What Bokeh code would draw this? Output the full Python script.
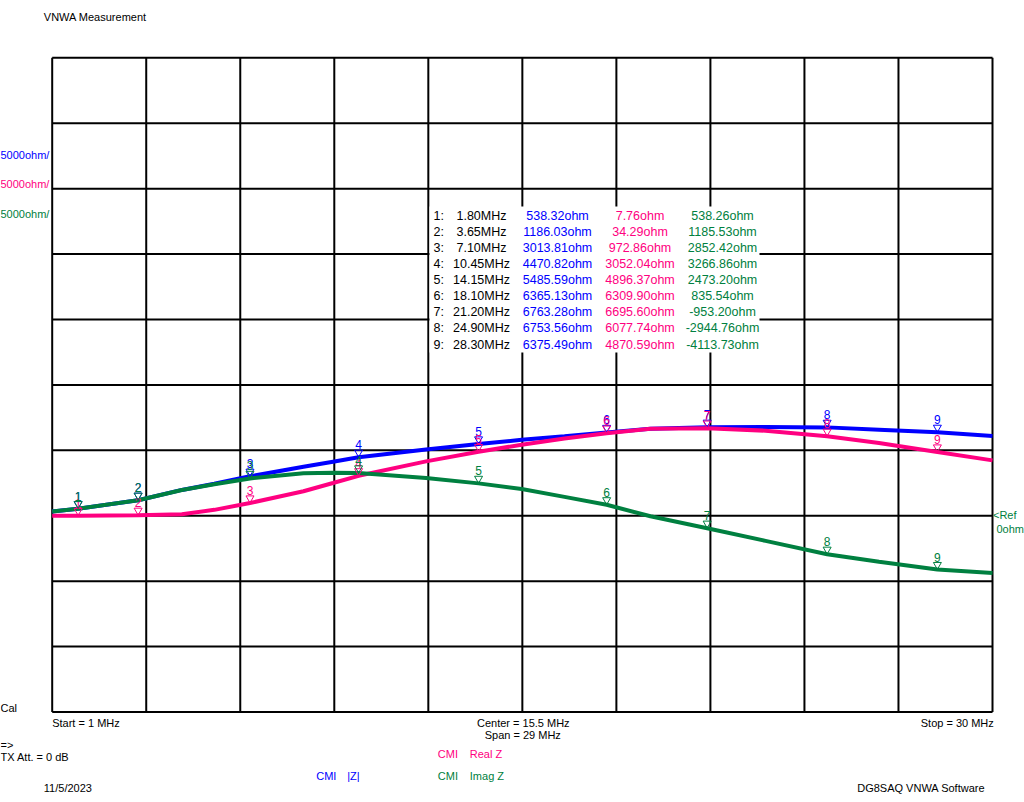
from bokeh.plotting import figure
from bokeh.models import Range1d
from bokeh.core.properties import value
from bokeh.embed import file_html
from bokeh.resources import INLINE

# ---------------- data ----------------
freq_mhz = [1.0, 1.8, 3.65, 5.0, 6.0, 7.1, 8.75, 9.66, 10.45, 12.53, 14.15,
            15.48, 16.8, 18.1, 19.45, 21.2, 23.0, 24.9, 26.5, 28.3, 30.0]
real_z = [5, 7.76, 34.29, 110, 450, 972.86, 1870, 2500, 3052.04, 4155, 4896.37,
          5427, 5900, 6309.9, 6640, 6695.6, 6500, 6077.74, 5560, 4870.59, 4230]
imag_z = [320, 538.26, 1185.53, 1970, 2400, 2852.42, 3240, 3290, 3266.86, 2887, 2473.2,
          2050, 1440, 835.54, -40, -953.2, -1920, -2944.76, -3510, -4113.73, -4383]
mag_z = [320, 538.32, 1186.03, 1973, 2442, 3013.81, 3741, 4132, 4470.82, 5059, 5485.59,
         5801, 6075, 6365.13, 6640, 6763.28, 6778, 6753.56, 6580, 6375.49, 6095]

marker_freq = [1.80, 3.65, 7.10, 10.45, 14.15, 18.10, 21.20, 24.90, 28.30]
marker_mag = [538.32, 1186.03, 3013.81, 4470.82, 5485.59, 6365.13, 6763.28, 6753.56, 6375.49]
marker_re = [7.76, 34.29, 972.86, 3052.04, 4896.37, 6309.90, 6695.60, 6077.74, 4870.59]
marker_im = [538.26, 1185.53, 2852.42, 3266.86, 2473.20, 835.54, -953.20, -2944.76, -4113.73]

x_grid = [1.0, 3.9, 6.8, 9.7, 12.6, 15.5, 18.4, 21.3, 24.2, 27.1, 30.0]
y_grid = [-15000, -10000, -5000, 0, 5000, 10000, 15000, 20000, 25000, 30000, 35000]

BLUE = "#0000FF"
PINK = "#FF0080"
GREEN = "#008040"
FONT = value("Liberation Sans")

# ---------------- layout ----------------
W, H = 1024, 800
OFF = 0
FL, FR, FT, FB = 51.7, 992.0, 57.3, 711.5   # plot box in page pixels
x0, x1 = x_grid[0], x_grid[-1]
y0, y1 = y_grid[0], y_grid[-1]
sx = (x1 - x0) / (FR - FL)
sy = (y1 - y0) / (FB - FT)

def X(px):
    return x0 + (px - FL) * sx

def Y(py):
    return y1 - (py - FT) * sy

p = figure(width=W, height=H,
           x_range=Range1d(X(OFF), X(OFF + W)),
           y_range=Range1d(Y(OFF + H), Y(OFF)),
           output_backend="svg", toolbar_location=None,
           x_axis_location=None, y_axis_location=None,
           min_border=0, min_border_left=0, min_border_right=0,
           min_border_top=0, min_border_bottom=0)
p.outline_line_color = None
p.grid.grid_line_color = None
p.background_fill_color = "white"
p.border_fill_color = "white"

# grid
p.segment(x0=x_grid, y0=[y0] * len(x_grid), x1=x_grid, y1=[y1] * len(x_grid),
          line_color="black", line_width=2)
p.segment(x0=[x0] * len(y_grid), y0=y_grid, x1=[x1] * len(y_grid), y1=y_grid,
          line_color="black", line_width=2)

# white box behind the marker table
p.quad(left=[X(429)], right=[X(759)], top=[Y(206)], bottom=[Y(352)],
       fill_color="white", line_color=None)

# traces
p.line(freq_mhz, mag_z, line_color=BLUE, line_width=4)
p.line(freq_mhz, real_z, line_color=PINK, line_width=4)
p.line(freq_mhz, imag_z, line_color=GREEN, line_width=4)

# markers
labels = [str(i + 1) for i in range(len(marker_freq))]
for vals, col in ((marker_mag, BLUE), (marker_re, PINK), (marker_im, GREEN)):
    p.scatter(marker_freq, [v + 4.8 * sy for v in vals], marker="inverted_triangle",
              size=8, fill_color=None, line_color=col, line_width=1)
    p.text(marker_freq, [v + 12.5 * sy for v in vals], text=labels,
           text_color=col, text_font=FONT, text_font_size="12px",
           text_align="center", text_baseline="middle")

# marker table
row_y = [215.7 + 16.04 * i for i in range(len(marker_freq))]
ty = [Y(r) for r in row_y]
n = len(marker_freq)
p.text([X(433)] * n, ty, text=[f"{i + 1}:" for i in range(n)], text_color="black",
       text_font=FONT, text_font_size="12.5px", text_align="left", text_baseline="middle")
p.text([X(481)] * n, ty, text=[f"{f:.2f}MHz" for f in marker_freq], text_color="black",
       text_font=FONT, text_font_size="12.5px", text_align="center", text_baseline="middle")
for vals, col, cx in ((marker_mag, BLUE, 557), (marker_re, PINK, 639.5), (marker_im, GREEN, 722)):
    p.text([X(cx)] * n, ty, text=[f"{v:.2f}ohm" for v in vals], text_color=col,
           text_font=FONT, text_font_size="12.5px", text_align="center", text_baseline="middle")

# free texts (page pixel positions)
texts = [
    ("VNWA Measurement", 43.3, 16.7, "left", "black", "11px"),
    ("5000ohm/", 0, 154, "left", BLUE, "11px"),
    ("5000ohm/", 0, 183.3, "left", PINK, "11px"),
    ("5000ohm/", 0, 213.3, "left", GREEN, "11px"),
    ("Cal", 0, 707, "left", "black", "11px"),
    ("Start = 1 MHz", 51.7, 722.5, "left", "black", "11px"),
    ("Center = 15.5 MHz", 522.8, 722.3, "center", "black", "11px"),
    ("Span = 29 MHz", 522.3, 734.3, "center", "black", "11px"),
    ("Stop = 30 MHz", 993.3, 722.3, "right", "black", "11px"),
    ("=>", 0, 744, "left", "black", "11px"),
    ("TX Att.  = 0 dB", 0, 756, "left", "black", "11px"),
    ("11/5/2023", 43.3, 787.3, "left", "black", "11px"),
    ("CMI", 437.3, 753.3, "left", PINK, "11px"),
    ("Real Z", 469.3, 753.3, "left", PINK, "11px"),
    ("CMI", 315.7, 775, "left", BLUE, "11px"),
    ("|Z|", 346.7, 775, "left", BLUE, "11px"),
    ("CMI", 437.3, 775, "left", GREEN, "11px"),
    ("Imag Z", 469.3, 775, "left", GREEN, "11px"),
    ("DG8SAQ VNWA Software", 856.7, 787.3, "left", "black", "11px"),
    ("<Ref", 992.5, 514, "left", GREEN, "11px"),
    ("0ohm", 996, 528, "left", GREEN, "11px"),
]
for t, px, py, al, col, fs in texts:
    p.text([X(px)], [Y(py)], text=[t], text_color=col, text_font=FONT,
           text_font_size=fs, text_align=al, text_baseline="middle")

open("out.html", "w").write(file_html(p, INLINE))
